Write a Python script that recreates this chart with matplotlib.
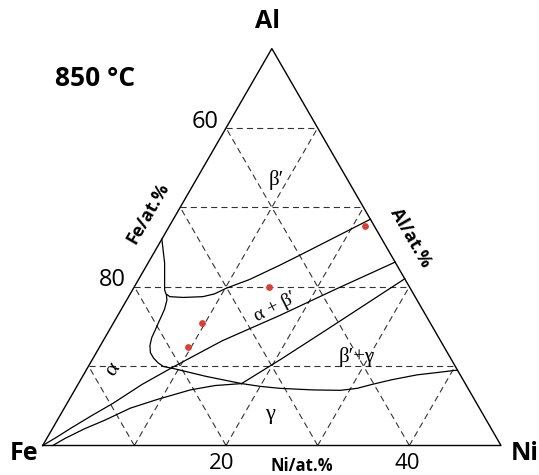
import math
import matplotlib.pyplot as plt

# compositions as (Ni at.%, Al at.%), Fe is the rest
grid_levels = [10, 20, 30, 40]

alpha_top = [(0, 26.0), (1.8, 23.0), (3.0, 20.6), (3.5, 19.6), (3.9, 19.1),
             (4.5, 18.75), (6.0, 18.65), (8.1, 18.75), (9.2, 19.1),
             (10.1, 19.8), (11.0, 20.3), (12.1, 20.9), (14.5, 22.7),
             (16.1, 24.0), (21.5, 28.5)]
alpha_low = [(4.0, 19.0), (4.4, 18.3), (4.7, 17.2), (4.8, 16.4), (4.9, 15.4),
             (5.0, 14.6), (5.1, 13.6), (5.4, 12.6), (5.9, 11.7), (6.6, 11.0),
             (7.4, 10.4), (8.2, 9.95), (9.4, 9.7), (13.5, 8.7), (17.8, 7.8)]
gamma_top = [(17.8, 7.8), (20.0, 7.45), (22.3, 7.2), (26.0, 7.0), (29.0, 6.95),
             (30.7, 7.2), (32.1, 7.7), (34.0, 8.3), (36.4, 8.9), (38.5, 9.2),
             (40.5, 9.5)]
ab_low = [(0, 0), (1.0, 1.05), (2.0, 2.2), (3.5, 3.8), (5.0, 5.3), (7.0, 7.7),
          (9.3, 9.9), (13.0, 13.2), (17.7, 16.4), (22.0, 19.6), (26.9, 23.1)]
bg_line = [(17.8, 7.8), (20.5, 10.8), (23.7, 14.6), (29.0, 21.0)]
gamma_low = [(1.1, 0), (1.5, 0.4), (2.0, 0.9), (3.5, 2.1), (5.2, 3.2),
             (7.2, 4.7), (9.6, 5.8), (12.6, 7.0), (15.0, 7.55), (17.8, 7.8)]

dots_ni = [21.4, 14.7, 9.7, 9.7]
dots_al = [27.6, 20.0, 15.4, 12.4]

tick_left = ['60', '80']
tick_bottom = ['20', '40']

SANS = ['Open Sans', 'DejaVu Sans']
SERIF = ['Liberation Serif', 'DejaVu Serif']


def tern(n, a):
    return n + a / 2, a * math.sqrt(3) / 2


def draw_curve(ax, pts, **kw):
    xs, ys = zip(*[tern(n, a) for n, a in pts])
    ax.plot(xs, ys, solid_joinstyle='round', **kw)


fig = plt.figure(figsize=(5.39, 4.75), dpi=100)
ax = fig.add_axes([0, 0, 1, 1])
ax.set_xlim(-4.658, 54.146)
ax.set_ylim(-3.218, 48.60)
ax.axis('off')

# dashed grid
dash = dict(color='#333333', lw=0.8, linestyle=(0, (5.5, 3.7)))
for g in grid_levels:
    draw_curve(ax, [(0, g), (50 - g, g)], **dash)
    draw_curve(ax, [(g, 0), (g, 50 - g)], **dash)
    draw_curve(ax, [(g, 0), (0, g)], **dash)

# frame
draw_curve(ax, [(0, 0), (50, 0), (0, 50), (0, 0)], color='black', lw=1.0)

# phase boundaries
line = dict(color='black', lw=0.9)
for c in [alpha_top, alpha_low, gamma_top, ab_low, bg_line, gamma_low]:
    draw_curve(ax, c, **line)

xs, ys = zip(*[tern(n, a) for n, a in zip(dots_ni, dots_al)])
ax.scatter(xs, ys, s=24, color='#d8403a', zorder=5, linewidths=0)

# labels
ax.text(5.71, 40.09, '850 °C', fontsize=19, fontweight='bold', family=SANS,
        ha='center', va='center')
ax.text(24.58, 46.21, 'Al', fontsize=18, fontweight='bold', family=SANS,
        ha='center', va='center')
ax.text(-2.04, -0.82, 'Fe', fontsize=18, fontweight='bold', family=SANS,
        ha='center', va='center')
ax.text(52.55, -0.9, 'Ni', fontsize=18, fontweight='bold', family=SANS,
        ha='center', va='center')

ax.text(17.71, 35.29, tick_left[0], fontsize=17, family=SANS, ha='center', va='center')
ax.text(7.56, 18.06, tick_left[1], fontsize=17, family=SANS, ha='center', va='center')
ax.text(19.56, -2.0, tick_bottom[0], fontsize=16, family=SANS, ha='center', va='center')
ax.text(39.74, -2.0, tick_bottom[1], fontsize=16, family=SANS, ha='center', va='center')

ax.text(28.29, -2.2, 'Ni/at.%', fontsize=12, fontweight='bold', family=SANS,
        ha='center', va='center')
ax.text(11.49, 25.37, 'Fe/at.%', fontsize=13, fontweight='bold', family=SANS,
        ha='center', va='center', rotation=60, rotation_mode='anchor')
ax.text(40.18, 22.64, 'Al/at.%', fontsize=13, fontweight='bold', family=SANS,
        ha='center', va='center', rotation=-60, rotation_mode='anchor')

ax.text(25.45, 28.97, 'β′', fontsize=15, family=SERIF, ha='center', va='center')
ax.text(25.34, 15.11, 'α + β′', fontsize=14, family=SERIF, ha='center',
        va='center', rotation=27, rotation_mode='anchor')
ax.text(34.29, 9.66, 'β′+γ', fontsize=15, family=SERIF, ha='center', va='center')
ax.text(7.67, 8.24, 'α', fontsize=16, family=SERIF, ha='center', va='center',
        rotation=55, rotation_mode='anchor')
ax.text(24.80, 3.33, 'γ', fontsize=16, family=SERIF, ha='center', va='center')

fig.savefig('out.png', dpi=100)
